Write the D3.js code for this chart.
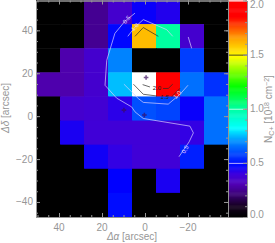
<!DOCTYPE html>
<html>
<head>
<meta charset="utf-8">
<script src="https://cdn.jsdelivr.net/npm/d3@7"></script>
<style>
  html, body { margin: 0; padding: 0; background: #fff; overflow: hidden; }
  text { font-family: "Liberation Sans", Arial, sans-serif; font-size: 10px; fill: #969696; }
</style>
</head>
<body>
<div id="chart"></div>
<script>
// column density map, rows top to bottom, 0 means no data
const row1 = [0, 0, 0.25, 0.36, 0.46, 0.43, 0, 0];
const row2 = [0, 0, 0.25, 0.48, 1.6, 1.0, 0.36, 0];
const row3 = [0, 0.29, 0.36, 0.68, 0, 0, 0.57, 0];
const row4 = [0.29, 0.29, 0.36, 0.75, 2.1, 1.85, 0.65, 0.55];
const row5 = [0, 0.36, 0.37, 0.42, 0.6, 0.58, 0.46, 0.65];
const row6 = [0, 0.44, 0.38, 0.38, 0.38, 0.38, 0.41, 0.65];
const row7 = [0, 0, 0.45, 0.41, 0.38, 0.38, 0.52, 0];
const row8 = [0, 0, 0, 0.47, 0, 0.44, 0, 0];
const row9 = [0, 0, 0, 0.49, 0, 0, 0, 0];
const rows = [row1, row2, row3, row4, row5, row6, row7, row8, row9];

const xTicks = [40, 20, 0, -20];
const yTicks = [40, 20, 0, -20, -40];
const barTicks = [0, 0.5, 1, 1.5, 2];

// colour table, value then colour
const cmapValues = [0, 0.1, 0.2, 0.3, 0.4, 0.47, 0.6, 0.7, 0.82, 1.0, 1.2, 1.48, 1.65, 1.85, 2.0];
const cmapColors = ["#000000", "#150020", "#380070", "#5000b4", "#3c00e0", "#0000ff", "#0050ff", "#0090ff",
  "#00ffff", "#00ffa0", "#00ff00", "#ffff00", "#ffa000", "#ff0000", "#ff0000"];

// contours in arcsec [ra, dec], null breaks the line at a label
const contour05 = [[4.65, 48], [9.3, 44.3], [14, 38.6], [17.8, 26], [18.6, 14.4], [13.2, 8.4], [6.2, 4.3], [4.65, 2],
  [0.8, -1.1], [-20.9, -4.65], [-22.5, -7.8], [-20.5, -12], [-15.8, -18.9]];
const contour10a = [[8, 37.2], [4.65, 41.5], [0.8, 45], [-10.1, 40.3], [-12.9, 37.2]];
const contour10b = [[-20.1, 36.9], [-21.7, 31.6]];
const contour10c = [[9.8, 14.9], [3.1, 8.2], [0.8, 6.4], [-10.8, 5.6], [-16.3, 10.2], [-20, 14.4]];
const contour15a = [[4.65, 37.2], [0.8, 41.3], [-6.2, 37.2]];
const contour15b = [[5.4, 14.9], [0.8, 10.2], [-5.5, 9.4], null, [-12.4, 9], [-16.3, 13]];
const contour20 = [[1.1, 14.7], [-2.3, 13.6], null, [-8.4, 12.9], [-10.8, 12.9], [-12.9, 14.9]];

const whiteLines = [contour05, contour10a, contour10b, contour10c];
const darkLines = [contour15a, contour15b, contour20];

const contourLabels = [
  { text: "0.5", ra: 8.6, dec: 45, angle: -50, color: "#e0d0ff" },
  { text: "0.5", ra: -18.6, dec: -15.5, angle: -60, color: "#e0d0ff" },
  { text: "1.0", ra: 4.65, dec: 41.5, angle: -45, color: "#f0e8d0" },
  { text: "1.0", ra: -15, dec: 10, angle: -45, color: "#f0d0d0" },
  { text: "2.0", ra: -5.5, dec: 13.3, angle: 0, color: "#222" },
  { text: "1.5", ra: -9.2, dec: 9.2, angle: 0, color: "#222" }
];

const stars = [[-0.5, 18], [9.8, 2.8], [0.3, 0.5]];

const width = 275, height = 243;
const plotLeft = 36, plotRight = 228, plotTop = 0.5, plotBottom = 217;
const barLeft = 228, barRight = 247;

const svg = d3.select("#chart").append("svg")
  .attr("width", width)
  .attr("height", height);

const x = d3.scaleLinear().domain([50.7, -38.6]).range([plotLeft, plotRight]);
const y = d3.scaleLinear().domain([53.9, -47]).range([plotTop, plotBottom]);
const barY = d3.scaleLinear().domain([0, 2]).range([plotBottom, plotTop]);
const color = d3.scaleLinear().domain(cmapValues).range(cmapColors).clamp(true);

// ---------- cells ----------
const colBand = d3.scaleBand().domain(d3.range(8)).range([plotLeft, plotRight]);
const rowBand = d3.scaleBand().domain(d3.range(9)).range([0, plotBottom]);

rows.forEach((row, r) => {
  svg.append("g").selectAll("rect")
    .data(row)
    .enter()
    .append("rect")
    .attr("x", (d, i) => colBand(i))
    .attr("y", rowBand(r))
    .attr("width", colBand.bandwidth() + 0.5)
    .attr("height", rowBand.bandwidth() + 0.5)
    .attr("fill", d => d > 2 ? "#fff" : color(d));
});

// ---------- contours ----------
const line = d3.line()
  .defined(d => d)
  .x(d => x(d[0]))
  .y(d => y(d[1]));

svg.append("g").selectAll("path")
  .data(whiteLines)
  .enter()
  .append("path")
  .attr("d", line)
  .attr("fill", "none")
  .attr("stroke", "#d8d0ff")
  .attr("stroke-width", 0.7);

svg.append("g").selectAll("path")
  .data(darkLines)
  .enter()
  .append("path")
  .attr("d", line)
  .attr("fill", "none")
  .attr("stroke", "#2a2a2a")
  .attr("stroke-width", 0.7);

svg.append("g").selectAll("text")
  .data(contourLabels)
  .enter()
  .append("text")
  .text(d => d.text)
  .attr("text-anchor", "middle")
  .attr("dy", "0.35em")
  .attr("transform", d => `translate(${x(d.ra)},${y(d.dec)}) rotate(${d.angle})`)
  .style("font-size", "6px")
  .style("fill", d => d.color);

// ---------- stars ----------
const starMark = d3.symbol().type(d3.symbolTimes).size(14);
const starCross = d3.symbol().type(d3.symbolCross).size(12);

svg.append("g").selectAll("g")
  .data(stars)
  .enter()
  .append("g")
  .attr("transform", d => `translate(${x(d[0])},${y(d[1])})`)
  .each(function() {
    const g = d3.select(this);
    g.append("path").attr("d", starMark()).attr("fill", "#3c0c60");
    g.append("path").attr("d", starCross()).attr("fill", "#3c0c60").attr("opacity", 0.7);
  });

// ---------- colour bar ----------
const barSteps = d3.range(0, 2, 0.01);

svg.append("g").selectAll("rect")
  .data(barSteps)
  .enter()
  .append("rect")
  .attr("x", barLeft)
  .attr("width", barRight - barLeft)
  .attr("y", d => barY(d + 0.01))
  .attr("height", barY(0) - barY(0.01) + 0.5)
  .attr("fill", d => color(d));

const levelLines = [[0.5, "#b8b0ff"], [1, "#b0ffe0"], [1.5, "#4a4a20"], [2, "#ffffff"]];

svg.append("g").selectAll("line")
  .data(levelLines)
  .enter()
  .append("line")
  .attr("x1", barLeft)
  .attr("x2", barRight)
  .attr("y1", d => barY(d[0]) + 0.5)
  .attr("y2", d => barY(d[0]) + 0.5)
  .attr("stroke", d => d[1]);

// ---------- axes ----------
const tickColor = "#969696";

function styleAxis(g) {
  g.selectAll("path, line").attr("stroke", tickColor);
  g.selectAll("text").remove();
}

function addTicks(axisFn, scale, major, minor, pos) {
  svg.append("g")
    .attr("transform", pos)
    .call(axisFn(scale).tickValues(minor).tickSize(2).tickFormat("").tickSizeOuter(0))
    .call(styleAxis);
  svg.append("g")
    .attr("transform", pos)
    .call(axisFn(scale).tickValues(major).tickSize(4).tickFormat("").tickSizeOuter(0))
    .call(styleAxis);
}

const xMinor = d3.range(-35, 51, 5);
const yMinor = d3.range(-45, 51, 5);

addTicks(d3.axisTop, x, xTicks, xMinor, `translate(0,${plotBottom})`);
addTicks(d3.axisBottom, x, xTicks, xMinor, `translate(0,${plotTop})`);
addTicks(d3.axisRight, y, yTicks, yMinor, `translate(${plotLeft},0)`);
addTicks(d3.axisLeft, y, yTicks, yMinor, `translate(${plotRight},0)`);

const barMinor = d3.range(0, 2.01, 0.1);
addTicks(d3.axisLeft, barY, barTicks, barMinor, `translate(${barRight},0)`);

svg.append("g").selectAll("text")
  .data(xTicks)
  .enter()
  .append("text")
  .text(d => d < 0 ? "\u2212" + (-d) : d)
  .attr("x", d => x(d))
  .attr("y", 230.5)
  .attr("text-anchor", "middle");

svg.append("g").selectAll("text")
  .data(yTicks)
  .enter()
  .append("text")
  .text(d => d < 0 ? "\u2212" + (-d) : d)
  .attr("x", 33)
  .attr("y", d => y(d) + 3.5)
  .attr("text-anchor", "end");

svg.append("g").selectAll("text")
  .data(barTicks)
  .enter()
  .append("text")
  .text(d => d.toFixed(1))
  .attr("x", 250)
  .attr("y", d => Math.max(8, Math.min(217.5, barY(d) + 3.5)));

// ---------- titles ----------
const xTitle = svg.append("text")
  .attr("x", 132)
  .attr("y", 240)
  .attr("text-anchor", "middle");
xTitle.append("tspan").text("\u0394\u03b1").style("font-style", "italic");
xTitle.append("tspan").text(" [arcsec]");

const yTitle = svg.append("text")
  .attr("transform", "translate(9,108) rotate(-90)")
  .attr("text-anchor", "middle");
yTitle.append("tspan").text("\u0394\u03b4").style("font-style", "italic");
yTitle.append("tspan").text(" [arcsec]");

const barTitle = svg.append("text")
  .attr("transform", "translate(272,109) rotate(-90)")
  .attr("text-anchor", "middle");
barTitle.append("tspan").text("N");
barTitle.append("tspan").text("C+").attr("dy", 2).style("font-size", "7px");
barTitle.append("tspan").text(" [10").attr("dy", -2);
barTitle.append("tspan").text("18").attr("dy", -3).style("font-size", "7px");
barTitle.append("tspan").text(" cm").attr("dy", 3);
barTitle.append("tspan").text("\u22122").attr("dy", -3).style("font-size", "7px");
barTitle.append("tspan").text("]").attr("dy", 3);
</script>
</body>
</html>
